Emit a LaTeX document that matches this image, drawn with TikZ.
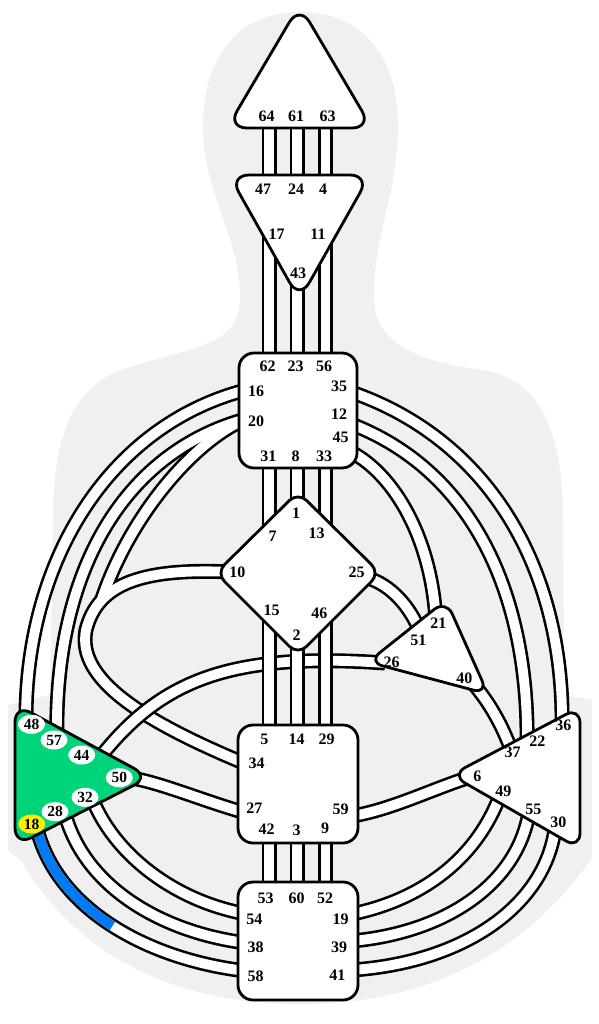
\documentclass[tikz,border=0pt]{standalone}
\usepackage{fontspec}
\setmainfont{Liberation Serif}
\usetikzlibrary{shapes.geometric}
\definecolor{bodygrey}{RGB}{240,240,240}
\definecolor{splgreen}{RGB}{0,212,122}
\definecolor{gateyellow}{RGB}{255,238,0}
\definecolor{chblue}{RGB}{0,122,240}
\newcommand\chan[1]{\draw[chb] #1; \draw[chw] #1;}
\begin{document}
\begin{tikzpicture}[x=1pt,y=-1pt,
  chb/.style={draw=black,line width=15pt},
  chw/.style={draw=white,line width=9.8pt},
  ctr/.style={draw=black,fill=white,line width=2.8pt,rounded corners=14pt,line join=round},
  gl/.style={font=\fontsize{16}{16}\selectfont\bfseries,inner sep=0pt},
  sg/.style={ellipse,fill=white,minimum width=27pt,minimum height=19pt,inner sep=0pt,font=\fontsize{15.5}{16}\selectfont\bfseries}]
\useasboundingbox (0,0) rectangle (598,1024);
% body silhouette
\fill[bodygrey] (300,12) .. controls (365,12) and (398,60) .. (398,125)
  .. controls (398,195) and (372,240) .. (374,300)
  .. controls (376,345) and (420,362) .. (483,370)
  .. controls (540,380) and (563,430) .. (563,520) -- (564,695) -- (592,700) -- (592,858)
  .. controls (520,960) and (420,1004) .. (300,1004)
  .. controls (180,1004) and (80,960) .. (22,862) -- (8,850) -- (8,705) -- (50,695) -- (53,520)
  .. controls (53,430) and (75,385) .. (127,368)
  .. controls (200,345) and (238,345) .. (240,300)
  .. controls (242,240) and (203,195) .. (203,125)
  .. controls (203,60) and (236,12) .. (300,12) -- cycle;
% gate coordinates
\coordinate (g64) at (269,120); \coordinate (g47) at (269,190);
\coordinate (g61) at (297,120); \coordinate (g24) at (297,190);
\coordinate (g63) at (325.5,120); \coordinate (g4) at (325.5,190);
\coordinate (g17) at (269,200); \coordinate (g62) at (269,365);
\coordinate (g43) at (297,270); \coordinate (g23) at (297,365);
\coordinate (g11) at (325.5,200); \coordinate (g56) at (325.5,365);
\coordinate (g31) at (269,455); \coordinate (g7) at (269,545);
\coordinate (g8) at (297,455); \coordinate (g1) at (297,515);
\coordinate (g33) at (325.5,455); \coordinate (g13) at (325.5,545);
\coordinate (g15) at (269,600); \coordinate (g5) at (269,735);
\coordinate (g2) at (297,630); \coordinate (g14) at (297,735);
\coordinate (g46) at (325.5,600); \coordinate (g29) at (325.5,735);
\coordinate (g42) at (269,835); \coordinate (g53) at (269,890);
\coordinate (g3) at (297,835); \coordinate (g60) at (297,890);
\coordinate (g9) at (325.5,835); \coordinate (g52) at (325.5,890);
\coordinate (g16) at (246,390); \coordinate (g48) at (26,725);
\coordinate (g20) at (246,419); \coordinate (g57) at (57,742);
\coordinate (jn) at (101.6,600); \coordinate (lp) at (86,630);
\coordinate (g10) at (232,572); \coordinate (g34) at (246,764);
\coordinate (g35) at (351,392); \coordinate (g36) at (562,730);
\coordinate (g12) at (351,424); \coordinate (g22) at (527,750);
\coordinate (g45) at (351,452); \coordinate (g21) at (436,622);
\coordinate (g25) at (368,578); \coordinate (g51) at (422,636);
\coordinate (g26) at (385,663); \coordinate (g44) at (98,760);
\coordinate (g40) at (470,680); \coordinate (g37) at (514,758);
\coordinate (g6) at (470,777); \coordinate (g59) at (352,816);
\coordinate (g27) at (246,813); \coordinate (g50) at (126,777);
\coordinate (g32) at (90,793); \coordinate (g54) at (246,914);
\coordinate (g28) at (63,806); \coordinate (g38) at (246,943);
\coordinate (g18) at (36,825); \coordinate (g58) at (246,971);
\coordinate (g19) at (352,914); \coordinate (g49) at (502,790);
\coordinate (g39) at (352,941); \coordinate (g55) at (530,805);
\coordinate (g41) at (352,970); \coordinate (g30) at (556,818);
% curved channels
\chan{(g16) .. controls (110,425) and (24,560) .. (g48)}
\draw[chb] (g20) .. controls (125,452) and (53,570) .. (g57);
\draw[chb] (g20) .. controls (195,440) and (130,515) .. (jn);
\draw[chb] (g10) .. controls (145,568) and (98,582) .. (lp) .. controls (76,680) and (145,722) .. (g34);
\draw[chw] (g20) .. controls (125,452) and (53,570) .. (g57);
\draw[chw] (g20) .. controls (195,440) and (130,515) .. (jn);
\draw[chw] (g10) .. controls (145,568) and (98,582) .. (lp) .. controls (76,680) and (145,722) .. (g34);
\chan{(g26) .. controls (230,652) and (160,680) .. (g44)}
\chan{(g27) .. controls (200,800) and (160,782) .. (g50)}
\chan{(g35) .. controls (490,440) and (565,570) .. (g36)}
\chan{(g12) .. controls (470,470) and (530,590) .. (g22)}
\chan{(g45) .. controls (395,475) and (432,540) .. (g21)}
\chan{(g25) .. controls (390,585) and (410,605) .. (g51)}
\chan{(g40) .. controls (488,700) and (503,725) .. (g37)}
\chan{(g6) .. controls (430,790) and (390,810) .. (g59)}
\chan{(g32) .. controls (110,850) and (170,900) .. (g54)}
\chan{(g28) .. controls (80,885) and (160,932) .. (g38)}
\chan{(g18) .. controls (55,910) and (150,960) .. (g58)}
\draw[chblue,line width=9.8pt,dash pattern=on 130pt off 3000pt] (g18) .. controls (55,910) and (150,960) .. (g58);
\chan{(g19) .. controls (420,900) and (478,860) .. (g49)}
\chan{(g39) .. controls (450,932) and (522,880) .. (g55)}
\chan{(g41) .. controls (470,962) and (552,900) .. (g30)}
% vertical channels
\chan{(g64) -- (g47)} \chan{(g61) -- (g24)} \chan{(g63) -- (g4)}
\chan{(g17) -- (g62)} \chan{(g43) -- (g23)} \chan{(g11) -- (g56)}
\chan{(g31) -- (g7)} \chan{(g8) -- (g1)} \chan{(g33) -- (g13)}
\chan{(g15) -- (g5)} \chan{(g2) -- (g14)} \chan{(g46) -- (g29)}
\chan{(g42) -- (g53)} \chan{(g3) -- (g60)} \chan{(g9) -- (g52)}
% centres
\draw[ctr,rounded corners=20pt] (299.5,5) -- (372,128) -- (227,128) -- cycle;
\draw[ctr,rounded corners=20pt] (229,175) -- (370,175) -- (299.5,300) -- cycle;
\draw[ctr,rounded corners=15pt] (239,353) rectangle (357,468);
\draw[ctr,rounded corners=12pt] (298,492) -- (380,573) -- (298,655) -- (216,573) -- cycle;
\draw[ctr,rounded corners=15pt] (446,600) -- (488,694) -- (368,662) -- cycle;
\draw[ctr,rounded corners=16pt] (580,707) -- (580,849) -- (451,775) -- cycle;
\draw[ctr,rounded corners=18pt,fill=splgreen] (15,704) -- (150,777) -- (15,846) -- cycle;
\draw[ctr,rounded corners=15pt] (238,725) rectangle (358,843);
\draw[ctr,rounded corners=15pt] (238,882) rectangle (358,1000);
% labels
\node[gl] (t64) at (266.7,116.7) {64}; \node[gl] (t61) at (296,116.7) {61}; \node[gl] (t63) at (327.7,116.7) {63};
\node[gl] (t47) at (263,189) {47}; \node[gl] (t24) at (296,189) {24}; \node[gl] (t4) at (323,189) {4};
\node[gl] (t17) at (276.7,234) {17}; \node[gl] (t11) at (318,234) {11}; \node[gl] (t43) at (298,273) {43};
\node[gl] (t62) at (267.7,366) {62}; \node[gl] (t23) at (295.7,366) {23}; \node[gl] (t56) at (324,366) {56};
\node[gl] (t16) at (256,391.7) {16}; \node[gl] (t20) at (256,421) {20};
\node[gl] (t35) at (339,386) {35}; \node[gl] (t12) at (339,414) {12}; \node[gl] (t45) at (340.7,437) {45};
\node[gl] (t31) at (268.3,456.7) {31}; \node[gl] (t8) at (295.7,456.7) {8}; \node[gl] (t33) at (324,456.7) {33};
\node[gl] (t1) at (296,513) {1}; \node[gl] (t7) at (272.7,536.7) {7}; \node[gl] (t13) at (316.7,533) {13};
\node[gl] (t10) at (237.3,572.7) {10}; \node[gl] (t25) at (356.7,572.7) {25};
\node[gl] (t15) at (271.7,610) {15}; \node[gl] (t46) at (319.3,613) {46}; \node[gl] (t2) at (296.7,635) {2};
\node[gl] (t21) at (438.3,622.7) {21}; \node[gl] (t51) at (418.3,640) {51}; \node[gl] (t26) at (391.7,662.7) {26}; \node[gl] (t40) at (464.3,678.3) {40};
\node[gl] (t36) at (563.3,725) {36}; \node[gl] (t22) at (537.3,740.7) {22}; \node[gl] (t37) at (512.7,752.7) {37};
\node[gl] (t6) at (477.3,776.7) {6}; \node[gl] (t49) at (503.3,791.7) {49}; \node[gl] (t55) at (533.3,809.3) {55}; \node[gl] (t30) at (558.3,822.7) {30};
\node[gl] (t5) at (264.3,739.3) {5}; \node[gl] (t14) at (296.7,739.3) {14}; \node[gl] (t29) at (326.7,739.3) {29};
\node[gl] (t34) at (256.7,763.3) {34}; \node[gl] (t27) at (254.3,808.3) {27}; \node[gl] (t59) at (340.7,809.3) {59};
\node[gl] (t42) at (266.7,829) {42}; \node[gl] (t3) at (296.7,830.7) {3}; \node[gl] (t9) at (325,828.3) {9};
\node[gl] (t53) at (265.7,898.3) {53}; \node[gl] (t60) at (296.7,898.3) {60}; \node[gl] (t52) at (325,898.3) {52};
\node[gl] (t54) at (254.3,919.3) {54}; \node[gl] (t38) at (255.7,947.3) {38}; \node[gl] (t58) at (255.7,976.7) {58};
\node[gl] (t19) at (340.7,919.3) {19}; \node[gl] (t39) at (339,947.3) {39}; \node[gl] (t41) at (337.3,975.7) {41};
\node[sg] (t48) at (31.5,724.3) {48}; \node[sg] (t57) at (54,740) {57}; \node[sg] (t44) at (81.7,755) {44};
\node[sg] (t50) at (119.3,777.7) {50}; \node[sg] (t32) at (85,797.3) {32}; \node[sg] (t28) at (55,811.7) {28};
\node[sg,fill=gateyellow] (t18) at (31.7,824) {18};
\end{tikzpicture}
\end{document}
